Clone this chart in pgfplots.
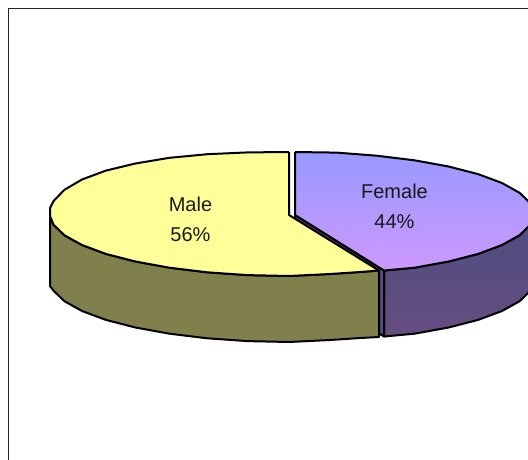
\documentclass[border=0pt]{standalone}
\usepackage{pgfplots}
\pgfplotsset{compat=1.18}
\usepackage{fontspec}
\setmainfont{Liberation Sans}
\definecolor{maletop}{HTML}{FFFF99}
\definecolor{maleside}{HTML}{80804C}
\definecolor{femtopA}{HTML}{9999FF}
\definecolor{femtopB}{HTML}{CC99FF}
\definecolor{femsideA}{HTML}{4D4D80}
\definecolor{femsideB}{HTML}{664D80}
\definecolor{femcut}{HTML}{5A4A85}
\begin{document}
\begin{tikzpicture}
\begin{axis}[
  scale only axis, width=528pt, height=459pt,
  xmin=0, xmax=528, ymin=0, ymax=459, y dir=reverse,
  axis line style={draw=none}, ticks=none,
  every axis plot/.append style={line join=round, line width=2pt, no marks, draw=black},
]
% chart area frame, running off at the right and the bottom
\addplot[line width=1.6pt, draw=black!85] coordinates {(8.5,470) (8.5,8.5) (540,8.5)};

% Female slice: outer wall
\addplot[top color=femsideA, bottom color=femsideB] coordinates {
 (384,270.5) (414.5,267.7) (448.6,261.5) (478.1,253.9) (502,245) (519.6,235.2) (530.4,224.8) (534,214)
 (534,280) (530.4,290.8) (519.6,301.2) (502,311) (478.1,319.9) (448.6,327.5) (414.5,333.7) (384,336.5)
 (384,270.5)};
% Female slice: cut face
\addplot[fill=femcut] coordinates {(295,215) (384,270.5) (384,336.5) (295,281) (295,215)};
% Female slice: top
\addplot[top color=femtopA, bottom color=femtopB] coordinates {
 (295,152) (336.5,152.6) (376.7,155.7) (414.5,160.3) (448.6,166.5) (478.1,174.1) (502,183) (519.6,192.8)
 (530.4,203.2) (534,214) (530.4,224.8) (519.6,235.2) (502,245) (478.1,253.9) (448.6,261.5) (414.5,267.7)
 (384,270.5) (295,215) (295,152)};

% Male slice: outer wall
\addplot[fill=maleside] coordinates {
 (50,216) (53.6,224.8) (64.4,235.2) (82,245) (105.9,253.9) (135.4,261.5) (169.5,267.7) (207.3,272.3)
 (247.5,275.1) (289,276) (330,274) (360,272) (379,270.5)
 (379,337) (360,338) (330,340) (289,342) (247.5,341.1) (207.3,338.3) (169.5,333.7) (135.4,327.5)
 (105.9,319.9) (82,311) (64.4,301.2) (53.6,290.8) (50,286) (50,216)};
% Male slice: top
\addplot[fill=maletop] coordinates {
 (289,152) (247.5,152.4) (207.3,154.2) (169.5,157.8) (135.4,163.5) (105.9,170.6) (82,179.5) (64.4,189.8)
 (53.6,201) (50,208) (50,216) (53.6,224.8) (64.4,235.2) (82,245) (105.9,253.9) (135.4,261.5) (169.5,267.7)
 (207.3,272.3) (247.5,275.1) (289,276) (330,274) (360,272) (379,270.5) (289,215) (289,152)};

% slice labels
\node[font=\fontsize{20}{24}\selectfont, text=black!90] at (axis cs:190.5,204) {Male};
\node[font=\fontsize{20}{24}\selectfont, text=black!90] at (axis cs:190.5,235) {56\%};
\node[font=\fontsize{20}{24}\selectfont, text=black!90] at (axis cs:394.5,191.5) {Female};
\node[font=\fontsize{20}{24}\selectfont, text=black!90] at (axis cs:394.5,221.5) {44\%};
\end{axis}
\end{tikzpicture}
\end{document}
